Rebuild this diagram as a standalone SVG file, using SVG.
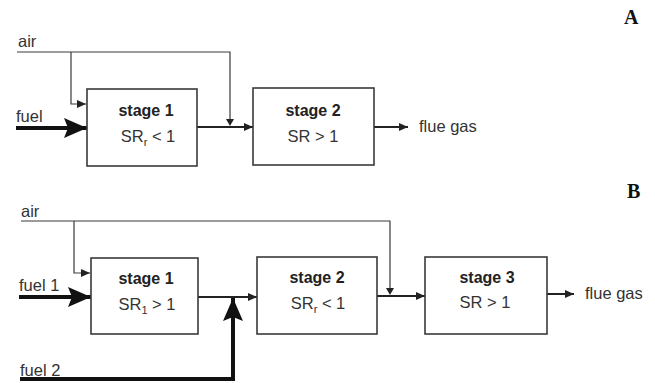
<svg xmlns="http://www.w3.org/2000/svg" width="655" height="383" viewBox="0 0 655 383">
<style>
.box{fill:#fff;stroke:#3a3a3a;stroke-width:1.6}
.thin{fill:none;stroke:#3a3a3a;stroke-width:1.2}
.mid{fill:none;stroke:#222;stroke-width:2}
.thick{fill:none;stroke:#111;stroke-width:4}
.lbl{font-family:"Liberation Sans",Arial,sans-serif;font-size:16.5px;fill:#333}
.title{font-family:"Liberation Sans",Arial,sans-serif;font-size:16px;font-weight:bold;fill:#222;text-anchor:middle}
.sr{font-family:"Liberation Sans",Arial,sans-serif;font-size:16.5px;fill:#333;text-anchor:middle}
.panel{font-family:"Liberation Serif","Times New Roman",serif;font-size:20px;font-weight:bold;fill:#111}
</style>
<defs>
<marker id="sm" markerUnits="userSpaceOnUse" markerWidth="10" markerHeight="8" refX="9" refY="4" orient="auto"><path d="M0,0 L9,4 L0,8 z" fill="#222"/></marker>
<marker id="big" markerUnits="userSpaceOnUse" markerWidth="24" markerHeight="20" refX="23" refY="10" orient="auto"><path d="M0,0 L23,10 L0,20 L4,10 z" fill="#111"/></marker>
</defs>

<text class="panel" x="624" y="24">A</text>
<text class="panel" x="627" y="198">B</text>

<g id="connectors">
<!-- Panel A -->
<path class="thin" d="M17,52 H230 V119"/>
<path class="thin" d="M71,52 V104 H86" marker-end="url(#sm)"/>
<path d="M226,119 L234,119 L230,126 z" fill="#222"/>
<path class="thick" d="M16,128 H87" marker-end="url(#big)"/>
<path class="mid" d="M197,127 H253" marker-end="url(#sm)"/>
<path class="mid" d="M374,127 H408" marker-end="url(#sm)"/>
<!-- Panel B -->
<path class="thin" d="M21,221 H390 V288"/>
<path class="thin" d="M74,221 V273 H90" marker-end="url(#sm)"/>
<path d="M386,288 L394,288 L390,295 z" fill="#222"/>
<path class="thick" d="M19,297 H91" marker-end="url(#big)"/>
<path class="mid" d="M198,297 H257" marker-end="url(#sm)"/>
<path class="thick" d="M20,379 H233 V298" marker-end="url(#big)"/>
<path class="mid" d="M377,296 H425" marker-end="url(#sm)"/>
<path class="mid" d="M547,294 H574" marker-end="url(#sm)"/>
</g>

<g id="labels">
<text class="lbl" x="18" y="47">air</text>
<text class="lbl" x="16" y="122">fuel</text>
<text class="lbl" x="419" y="132">flue gas</text>
<text class="lbl" x="21" y="217">air</text>
<text class="lbl" x="19" y="291">fuel 1</text>
<text class="lbl" x="20" y="376">fuel 2</text>
<text class="lbl" x="585" y="299">flue gas</text>
</g>

<g id="A-stage1">
<rect class="box" x="87" y="89" width="110" height="77"/>
<text class="title" x="146" y="116">stage 1</text>
<text class="sr" x="148" y="142">SR<tspan font-size="11" dy="4">r</tspan><tspan dy="-4"> &lt; 1</tspan></text>
</g>
<g id="A-stage2">
<rect class="box" x="253" y="88" width="121" height="77"/>
<text class="title" x="313" y="116">stage 2</text>
<text class="sr" x="313" y="142">SR &gt; 1</text>
</g>

<g id="B-stage1">
<rect class="box" x="91" y="258" width="107" height="76"/>
<text class="title" x="146" y="284">stage 1</text>
<text class="sr" x="147" y="310">SR<tspan font-size="11" dy="4">1</tspan><tspan dy="-4"> &gt; 1</tspan></text>
</g>
<g id="B-stage2">
<rect class="box" x="257" y="257" width="120" height="77"/>
<text class="title" x="317" y="283">stage 2</text>
<text class="sr" x="318" y="309">SR<tspan font-size="11" dy="4">r</tspan><tspan dy="-4"> &lt; 1</tspan></text>
</g>
<g id="B-stage3">
<rect class="box" x="425" y="257" width="122" height="77"/>
<text class="title" x="487" y="283">stage 3</text>
<text class="sr" x="485" y="308">SR &gt; 1</text>
</g>
</svg>
